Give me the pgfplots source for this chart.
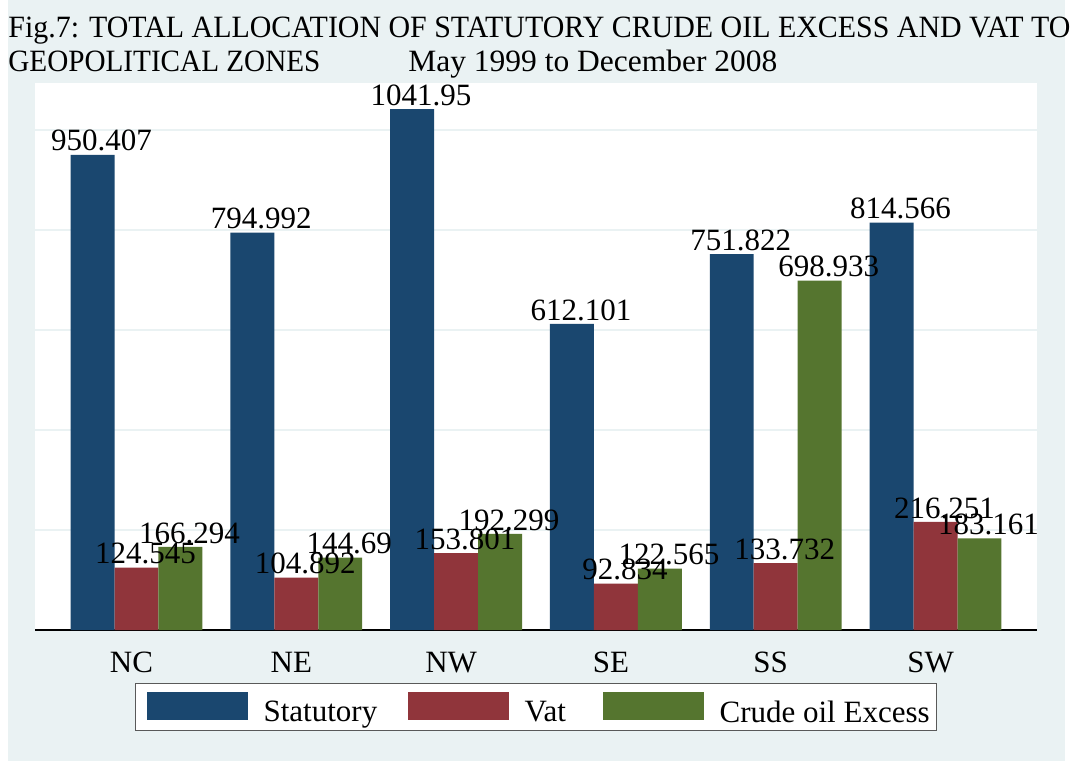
\documentclass[border=0pt]{standalone}
\usepackage{fontspec}
\setmainfont{Liberation Serif}
\usepackage{pgfplots}
\pgfplotsset{compat=1.18}
\definecolor{stbg}{RGB}{234,242,243}
\definecolor{stnavy}{RGB}{26,71,111}
\definecolor{stmaroon}{RGB}{144,53,59}
\definecolor{stgreen}{RGB}{85,117,47}
\newcommand\fs{\fontsize{15.5}{18}\selectfont}

\begin{document}
\begin{tikzpicture}[x=1pt,y=1pt]
\useasboundingbox (-17.5,-65.5) rectangle (520.5,315);
\fill[stbg] (-13.5,-65.5) rectangle (515,315);
\fill[white] (0,0) rectangle (501,273.5);
\node[anchor=base west,inner sep=0,font=\fs] at (-13.5,296) {\resizebox{531pt}{\height}{Fig.7: TOTAL ALLOCATION OF STATUTORY CRUDE OIL EXCESS AND VAT TO}};
\node[anchor=base west,inner sep=0,font=\fs] at (-13.5,279) {\resizebox{156pt}{\height}{GEOPOLITICAL ZONES}};
\node[anchor=base west,inner sep=0,font=\fs] at (186.5,279) {\resizebox{184.5pt}{\height}{May 1999 to December 2008}};
\begin{axis}[
  at={(0pt,0pt)}, anchor=south west,
  scale only axis, width=501pt, height=273.5pt,
  xmin=-0.635, xmax=5.635, ymin=0, ymax=1094,
  axis lines*=left,
  x axis line style={black,line width=0.6pt},
  y axis line style={draw=none},
  xtick={0,...,5}, xticklabels={NC,NE,NW,SE,SS,SW},
  xticklabel style={font=\fs, anchor=base, yshift=-21pt, xshift=-2.5pt},
  ytick={200,400,600,800,1000}, yticklabels={},
  major tick length=0pt,
  ymajorgrids, grid style={stbg,line width=0.6pt},
  clip=false,
  every node near coord/.append style={anchor=south, inner sep=1.5pt, font=\fs, black},
  legend columns=3,
  legend style={at={(axis description cs:0.0998,-0.0969)}, anchor=north west,
    draw=black!65, line width=0.6pt, fill=white, inner xsep=5.5pt, inner ysep=4pt,
    /tikz/every odd column/.style={column sep=8pt},
    /tikz/every even column/.style={column sep=0pt},
    nodes={inner sep=0pt, font=\fs, text depth=0pt}},
]
\addplot[ybar, bar width=0.275, bar shift=-0.275, fill=stnavy, draw=none,
  nodes near coords, point meta=explicit symbolic,
  every node near coord/.append style={xshift=-17.5pt},
  legend image code/.code={\fill[stnavy] (0pt,-4pt) rectangle (50.5pt,10pt);}]
  coordinates {(0,950.407)[950.407] (1,794.992)[794.992] (2,1041.95)[1041.95]
               (3,612.101)[612.101] (4,751.822)[751.822] (5,814.566)[814.566]};
\addlegendentry{\makebox[72pt][l]{Statutory}}
\addplot[ybar, bar width=0.275, bar shift=0, fill=stmaroon, draw=none,
  nodes near coords, point meta=explicit symbolic,
  every node near coord/.append style={xshift=4.5pt},
  legend image code/.code={\fill[stmaroon] (0pt,-4pt) rectangle (50.5pt,10pt);}]
  coordinates {(0,124.545)[124.545] (1,104.892)[104.892] (2,153.801)[153.801]
               (3,92.834)[92.834] (4,133.732)[133.732] (5,216.251)[216.251]};
\addlegendentry{\makebox[39pt][l]{Vat}}
\addplot[ybar, bar width=0.275, bar shift=0.275, fill=stgreen, draw=none,
  nodes near coords, point meta=explicit symbolic,
  every node near coord/.append style={xshift=26.5pt},
  legend image code/.code={\fill[stgreen] (0pt,-4pt) rectangle (50.5pt,10pt);}]
  coordinates {(0,166.294)[166.294] (1,144.69)[144.69] (2,192.299)[192.299]
               (3,122.565)[122.565] (4,698.933)[698.933] (5,183.161)[183.161]};
\addlegendentry{\makebox[103pt][l]{Crude oil Excess}}
\end{axis}
\end{tikzpicture}
\end{document}
